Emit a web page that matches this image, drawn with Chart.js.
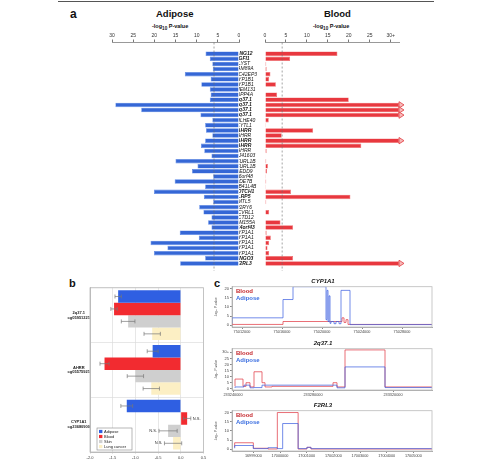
<!DOCTYPE html>
<html>
<head>
<meta charset="utf-8">
<script src="https://cdn.jsdelivr.net/npm/chart.js@4.4.1/dist/chart.umd.min.js"></script>
<style>
body { margin: 0; background: #fff; width: 479px; height: 463px; position: relative; overflow: hidden; font-family: "Liberation Sans", Arial, sans-serif; }
canvas { position: absolute; }
.t { position: absolute; white-space: nowrap; color: #111; line-height: 1; }
.rule { position: absolute; left: 58px; top: 1px; width: 376px; height: 1px; background: #555; }
</style>
</head>
<body>
<div class="rule"></div>
<div class="t" style="left:70px;top:8px;font-size:12px;font-weight:bold">a</div>
<div class="t" style="left:156px;top:9px;font-size:9.5px;font-weight:bold">Adipose</div>
<div class="t" style="left:152px;top:24px;font-size:5.5px;font-weight:bold">-log<sub>10</sub> P-value</div>
<div class="t" style="left:324px;top:9px;font-size:9.5px;font-weight:bold">Blood</div>
<div class="t" style="left:313px;top:24px;font-size:5.5px;font-weight:bold">-log<sub>10</sub> P-value</div>
<div class="t" style="left:69px;top:278px;font-size:11px;font-weight:bold">b</div>
<div class="t" style="left:214px;top:278px;font-size:11px;font-weight:bold">c</div>

<canvas id="adipose" width="180" height="246" style="left:60px;top:26px"></canvas>
<canvas id="blood" width="172" height="246" style="left:239px;top:26px"></canvas>
<canvas id="tissues" width="146" height="176" style="left:62px;top:283px"></canvas>
<canvas id="c1" width="222" height="62" style="left:214px;top:277px"></canvas>
<canvas id="c2" width="222" height="63" style="left:214px;top:339px"></canvas>
<canvas id="c3" width="222" height="62" style="left:214px;top:401px"></canvas>

<script>
// ---- panel a data ----
var genes = ['GNG12', 'GFI1', 'LYST', 'FAM89A', 'CDC42EP3', 'CYP1B1', 'CYP1B1', 'TMEM131', 'INPP4A',
    '2q37.1', '2q37.1', '2q37.1', '2q37.1', 'BHLHE40', 'CYTL1', 'AHRR', 'AHRR', 'AHRR', 'AHRR', 'AHRR',
    'FLJ41603', 'NEURL1B', 'NEURL1B', 'NEDD9', 'C6orf48', 'PDE7B', 'EPB41L4B', 'NOTCH1', 'LRP5', 'MTL5',
    'P2RY6', 'ACVRL1', 'KCTD12', 'FAM155A', 'C14orf43', 'CYP1A1', 'CYP1A1', 'CYP1A1', 'CYP1A1', 'CYP1A1',
    'LINGO3', 'F2RL3'];
var boldGenes = [1, 1, 0, 0, 0, 0, 0, 0, 0, 1, 1, 1, 1, 0, 0, 1, 0, 1, 1, 0, 0, 0, 0, 0, 0, 0, 0, 1, 1, 0,
    0, 0, 0, 0, 1, 0, 0, 0, 0, 0, 1, 1];
var adiposeValues = [7.9, 6.9, 6.3, 6.2, 12.8, 6.7, 8.9, 6.9, 6.7, 6.9, 29.2, 23.1, 9.1, 6.3, 8.0, 7.8, 6.3,
    8.0, 9.0, 8.2, 6.5, 15.0, 9.8, 11.1, 6.1, 15.2, 8.0, 20.1, 8.3, 6.1, 9.4, 8.4, 6.5, 7.3, 6.5, 14.0, 9.5,
    20.9, 16.9, 20.1, 8.0, 13.9];
var bloodValues = [17.3, 6.0, 0.3, 0.4, 1.3, 1.0, 2.6, 0.1, 2.9, 20.0, 32, 32, 32, 0.9, 0.2, 11.5, 4.0, 32,
    23.0, 0.4, 0.1, 0.3, 0.7, 0.5, 0.2, 0.3, 0.2, 6.2, 20.4, 0.3, 0.1, 1.0, 0.1, 3.7, 6.7, 0.4, 1.4, 1.0,
    0.6, 1.0, 6.7, 32];
var bloodCap = 30;
var adiposeThreshold = 5.9;
var bloodThreshold = 4.1;

// ---- panel b data ----
var bGroups = [['2q37.1', 'cg05951221'], ['AHRR', 'cg05575921'], ['CYP1A1', 'cg23680900']];
var bTissues = ['Adipose', 'Blood', 'Skin', 'Lung cancer'];
var bAdipose = [-1.38, -0.62, -1.19];
var bBlood = [-1.47, -1.68, 0.14];
var bSkin = [-1.16, -1.0, -0.28];
var bLung = [-0.63, -0.65, -0.17];
var bAdiposeErr = [0.07, 0.12, 0.13];
var bBloodErr = [0.07, 0.1, 0.08];
var bSkinErr = [0.15, 0.18, 0.2];
var bLungErr = [0.18, 0.18, 0.19];
var bAdiposeNS = [false, false, false];
var bBloodNS = [false, false, true];
var bSkinNS = [false, false, true];
var bLungNS = [false, false, true];

// ---- panel c data ----
var c1BloodPos = [75011000, 75016100, 75022000, 75022200, 75022400, 75022600, 75022800, 75031000];
var c1BloodVal = [1, 0.4, 2, 4, 1.5, 3, 0.4, 0.4];
var c1AdiposePos = [75011000, 75016100, 75017100, 75020400, 75020500, 75020600, 75020700, 75020800, 75020900,
    75021200, 75021400, 75021700, 75021900, 75022800, 75029400, 75031000];
var c1AdiposeVal = [1, 4, 14, 21, 3, 19, 2, 16, 1, 2, 0.8, 2, 0.8, 19, 0.3, 0.3];

var c2BloodPos = [233241000, 233245000, 233246500, 233248500, 233250500, 233254500, 233256000, 233259500,
    233290000, 233292000, 233296000, 233316000, 233322500, 233339500];
var c2BloodVal = [2, 8, 2, 5, 1.5, 14, 5, 1.5, 2, 5, 1.5, 32, 1.5, 1.5];
var c2AdiposePos = [233241000, 233245500, 233248500, 233250500, 233254500, 233292000, 233296000, 233316000,
    233322500, 233339500];
var c2AdiposeVal = [0.8, 1.5, 3, 0.8, 1, 3, 0.8, 18, 1, 1];

var c3BloodPos = [16998300, 16999000, 16999550, 16999900, 17000680, 17001010, 17001160, 17001500, 17005700];
var c3BloodVal = [1, 3.5, 0.5, 0.1, 20, 0.1, 1, 0.1, 0.1];
var c3AdiposePos = [16998300, 16999000, 16999550, 16999900, 17000100, 17000680, 17001010, 17001160, 17001500,
    17005700];
var c3AdiposeVal = [0.5, 2, 0.3, 0.8, 0.3, 14, 0.3, 1, 0.3, 0.3];

Chart.defaults.font.family = '"Liberation Sans", Arial, sans-serif';
Chart.defaults.color = '#222';

function rows(values) {
    return values.map(function (v, i) { return {x: v, y: i}; });
}

// ticks at multiples of step, limited to [lo, hi]
function stepTicks(step, lo, hi) {
    return function (scale) {
        var out = [];
        for (var k = Math.ceil(scale.min / step - 1e-9); k * step <= scale.max + 1e-9; k++) {
            var v = k * step;
            if (v >= lo && v <= hi) out.push({value: v});
        }
        scale.ticks = out;
    };
}

// dashed significance line
var thresholdLine = {
    id: 'thresholdLine',
    afterDatasetsDraw: function (chart, args, opts) {
        var x = chart.scales.x.getPixelForValue(opts.value);
        var a = chart.chartArea, ctx = chart.ctx;
        ctx.save();
        ctx.strokeStyle = 'rgba(110,110,110,0.8)';
        ctx.lineWidth = 0.8;
        ctx.setLineDash([2, 2]);
        ctx.beginPath();
        ctx.moveTo(x, a.top);
        ctx.lineTo(x, a.bottom + 3);
        ctx.stroke();
        ctx.restore();
    }
};

// arrow heads on capped blood bars
var capArrows = {
    id: 'capArrows',
    afterDatasetsDraw: function (chart) {
        var ctx = chart.ctx;
        chart.getDatasetMeta(0).data.forEach(function (bar, i) {
            if (bloodValues[i] <= bloodCap) return;
            ctx.save();
            ctx.fillStyle = '#f6b9b9';
            ctx.strokeStyle = '#e23a3f';
            ctx.lineWidth = 0.8;
            ctx.beginPath();
            ctx.moveTo(bar.x, bar.y - 3.2);
            ctx.lineTo(bar.x + 5, bar.y);
            ctx.lineTo(bar.x, bar.y + 3.2);
            ctx.closePath();
            ctx.fill();
            ctx.stroke();
            ctx.restore();
        });
    }
};

var yRows = {
    type: 'linear', min: -2.2, max: 41.9, reverse: true, offset: false,
    afterBuildTicks: stepTicks(1, 0, genes.length - 1)
};

var topAxis = {
    position: 'top',
    grid: {drawOnChartArea: false, tickLength: 3, color: '#777'},
    border: {color: '#999'},
    afterFit: function (s) { s.height = 16.5; }
};

// ---- panel a, adipose side ----
new Chart(document.getElementById('adipose'), {
    type: 'bar',
    data: {
        datasets: [{
            data: rows(adiposeValues),
            backgroundColor: '#3567d6',
            borderColor: '#5b88e8',
            borderWidth: 0.6,
            barPercentage: 0.88,
            categoryPercentage: 1
        }]
    },
    options: {
        indexAxis: 'y',
        responsive: false,
        animation: false,
        layout: {padding: {left: 52, right: 1, top: 0, bottom: 4}},
        plugins: {legend: {display: false}, tooltip: {enabled: false}, thresholdLine: {value: adiposeThreshold}},
        scales: {
            x: Object.assign({
                reverse: true, min: 0, max: 30,
                afterBuildTicks: stepTicks(5, 0, 30),
                ticks: {font: {size: 5}, color: '#333', padding: 1, maxRotation: 0, autoSkip: false}
            }, topAxis),
            y: Object.assign({display: false, grid: {offset: false}}, yRows)
        }
    },
    plugins: [thresholdLine]
});

// ---- panel a, blood side (gene labels live on its y axis) ----
new Chart(document.getElementById('blood'), {
    type: 'bar',
    data: {
        datasets: [{
            data: rows(bloodValues),
            backgroundColor: '#e8383f',
            borderColor: '#f07070',
            borderWidth: 0.6,
            barPercentage: 0.88,
            categoryPercentage: 1
        }]
    },
    options: {
        indexAxis: 'y',
        responsive: false,
        animation: false,
        layout: {padding: {left: 0, right: 12, top: 0, bottom: 4}},
        plugins: {legend: {display: false}, tooltip: {enabled: false}, thresholdLine: {value: bloodThreshold}},
        scales: {
            x: Object.assign({
                min: 0, max: 32,
                afterBuildTicks: stepTicks(5, 0, bloodCap),
                ticks: {
                    font: {size: 5}, color: '#333', padding: 1, maxRotation: 0, autoSkip: false,
                    callback: function (v) { return v === bloodCap ? bloodCap + '+' : v; }
                }
            }, topAxis),
            y: Object.assign({
                ticks: {
                    autoSkip: false, padding: 0, crossAlign: 'center', color: '#111',
                    font: function (ctx) {
                        var bold = ctx.tick && boldGenes[ctx.tick.value];
                        return {size: 5, style: 'italic', weight: bold ? 'bold' : 'normal'};
                    },
                    callback: function (v) { return genes[v] || ''; }
                },
                grid: {display: false, offset: false},
                border: {display: false},
                afterFit: function (s) { s.width = 26; }
            }, yRows)
        }
    },
    plugins: [thresholdLine, capArrows]
});

// ---- panel b ----
var frame = {
    id: 'frame',
    afterDraw: function (chart, args, opts) {
        var a = chart.chartArea, ctx = chart.ctx;
        ctx.save();
        ctx.strokeStyle = opts.color || '#bbb';
        ctx.lineWidth = 0.8;
        ctx.strokeRect(a.left, a.top, a.right - a.left, a.bottom - a.top);
        ctx.restore();
    }
};

var errorBars = {
    id: 'errorBars',
    afterDatasetsDraw: function (chart) {
        var ctx = chart.ctx, xs = chart.scales.x;
        ctx.save();
        ctx.font = '4px "Liberation Sans", Arial, sans-serif';
        ctx.textBaseline = 'middle';
        chart.data.datasets.forEach(function (ds, d) {
            chart.getDatasetMeta(d).data.forEach(function (bar, i) {
                var v = ds.data[i], e = ds.err[i];
                var x1 = xs.getPixelForValue(v - e), x2 = xs.getPixelForValue(v + e), y = bar.y;
                ctx.strokeStyle = '#777';
                ctx.lineWidth = 0.7;
                ctx.beginPath();
                ctx.moveTo(x1, y); ctx.lineTo(x2, y);
                ctx.moveTo(x1, y - 2); ctx.lineTo(x1, y + 2);
                ctx.moveTo(x2, y - 2); ctx.lineTo(x2, y + 2);
                ctx.stroke();
                if (ds.ns[i]) {
                    ctx.fillStyle = '#333';
                    if (v > 0) {
                        ctx.textAlign = 'left';
                        ctx.fillText('N.S.', x2 + 2, y);
                    } else {
                        ctx.textAlign = 'right';
                        ctx.fillText('N.S.', x1 - 2, y);
                    }
                }
            });
        });
        ctx.restore();
    }
};

var insideLegend = {
    id: 'insideLegend',
    afterDraw: function (chart) {
        var a = chart.chartArea, ctx = chart.ctx;
        var x = a.left + 7, y = a.bottom - 24;
        ctx.save();
        ctx.fillStyle = '#fff';
        ctx.strokeStyle = '#888';
        ctx.lineWidth = 0.6;
        ctx.fillRect(x, y, 35, 22);
        ctx.strokeRect(x, y, 35, 22);
        ctx.font = '4px "Liberation Sans", Arial, sans-serif';
        ctx.textBaseline = 'middle';
        ctx.textAlign = 'left';
        chart.data.datasets.forEach(function (ds, i) {
            var yy = y + 3.5 + i * 5;
            ctx.fillStyle = ds.backgroundColor;
            ctx.fillRect(x + 2, yy - 1.6, 3.4, 3.2);
            ctx.fillStyle = '#222';
            ctx.fillText(ds.label, x + 7, yy);
        });
        ctx.restore();
    }
};

new Chart(document.getElementById('tissues'), {
    type: 'bar',
    data: {
        labels: bGroups,
        datasets: [
            {label: bTissues[0], data: bAdipose, err: bAdiposeErr, ns: bAdiposeNS, backgroundColor: '#2f5fe2'},
            {label: bTissues[1], data: bBlood, err: bBloodErr, ns: bBloodNS, backgroundColor: '#f22b30'},
            {label: bTissues[2], data: bSkin, err: bSkinErr, ns: bSkinNS, backgroundColor: '#cfcfcf'},
            {label: bTissues[3], data: bLung, err: bLungErr, ns: bLungNS, backgroundColor: '#fcefc4'}
        ]
    },
    options: {
        indexAxis: 'y',
        responsive: false,
        animation: false,
        layout: {padding: {left: 0, right: 4.5, top: 4, bottom: 0}},
        datasets: {bar: {categoryPercentage: 0.91, barPercentage: 1}},
        plugins: {legend: {display: false}, tooltip: {enabled: false}},
        scales: {
            x: {
                min: -2, max: 0.5,
                afterBuildTicks: stepTicks(0.5, -2, 0.5),
                ticks: {font: {size: 4}, color: '#444', padding: 1, autoSkip: false,
                    callback: function (v) { return v.toFixed(1); }},
                grid: {color: '#dcdcdc', lineWidth: 0.7, tickLength: 2},
                border: {color: '#bbb'},
                afterFit: function (s) { s.height = 7; }
            },
            y: {
                ticks: {font: {size: 4, weight: 'bold'}, color: '#222', crossAlign: 'center', padding: 0},
                grid: {color: '#dcdcdc', lineWidth: 0.7, offset: true, tickLength: 0},
                border: {color: '#bbb'},
                afterFit: function (s) { s.width = 28; }
            }
        }
    },
    plugins: [errorBars, insideLegend, frame]
});

// ---- panel c ----
var stepLegend = {
    id: 'stepLegend',
    afterDraw: function (chart) {
        var a = chart.chartArea, ctx = chart.ctx;
        ctx.save();
        ctx.font = 'bold 6px "Liberation Sans", Arial, sans-serif';
        ctx.textBaseline = 'top';
        ctx.textAlign = 'left';
        ctx.fillStyle = '#c4262b';
        ctx.fillText('Blood', a.left + 4, a.top + 2);
        ctx.fillStyle = '#3b6ee0';
        ctx.fillText('Adipose', a.left + 4, a.top + 9);
        ctx.restore();
    }
};

function points(pos, val) {
    return pos.map(function (p, i) { return {x: p, y: val[i]}; });
}

function stepChart(id, title, bloodPos, bloodVal, adiposePos, adiposeVal, xMin, xMax, xStep, yMax, yTop, capTop) {
    new Chart(document.getElementById(id), {
        type: 'line',
        data: {
            datasets: [
                {label: 'Adipose', data: points(adiposePos, adiposeVal), borderColor: 'rgba(60,95,225,0.8)'},
                {label: 'Blood', data: points(bloodPos, bloodVal), borderColor: 'rgba(225,55,65,0.8)'}
            ]
        },
        options: {
            responsive: false,
            animation: false,
            datasets: {line: {stepped: 'after', borderWidth: 0.9, pointRadius: 0, fill: false}},
            layout: {padding: {left: 0, right: 4, top: 0, bottom: 0}},
            plugins: {
                legend: {display: false},
                tooltip: {enabled: false},
                title: {display: true, text: title, color: '#111', padding: {top: 1, bottom: 1.5},
                    font: {size: 6, style: 'italic', weight: 'bold'}}
            },
            scales: {
                x: {
                    type: 'linear', min: xMin, max: xMax,
                    afterBuildTicks: stepTicks(xStep, xMin, xMax),
                    ticks: {font: {size: 3.8}, color: '#444', padding: 1, maxRotation: 0, autoSkip: false,
                        callback: function (v) { return String(v); }},
                    grid: {drawOnChartArea: false, tickLength: 2, color: '#888'},
                    border: {color: '#aaa'},
                    afterFit: function (s) { s.height = 12; }
                },
                y: {
                    min: -1, max: yMax,
                    afterBuildTicks: stepTicks(5, 0, yTop),
                    ticks: {font: {size: 4}, color: '#444', padding: 1, autoSkip: false,
                        callback: function (v) { return capTop && v === yTop ? v + '+' : v; }},
                    grid: {drawOnChartArea: false, tickLength: 2, color: '#888'},
                    border: {color: '#aaa'},
                    title: {display: true, text: '-log\u2081\u2080 P-value', font: {size: 3.2}, color: '#444', padding: 0},
                    afterFit: function (s) { s.width = 18; }
                }
            }
        },
        plugins: [stepLegend, frame]
    });
}

stepChart('c1', 'CYP1A1', c1BloodPos, c1BloodVal, c1AdiposePos, c1AdiposeVal, 75011000, 75031000, 4000, 21, 20, false);
stepChart('c2', '2q37.1', c2BloodPos, c2BloodVal, c2AdiposePos, c2AdiposeVal, 233239500, 233339500, 40000, 33, 30, true);
stepChart('c3', 'F2RL3', c3BloodPos, c3BloodVal, c3AdiposePos, c3AdiposeVal, 16998200, 17005700, 1000, 21, 20, false);
</script>
</body>
</html>
